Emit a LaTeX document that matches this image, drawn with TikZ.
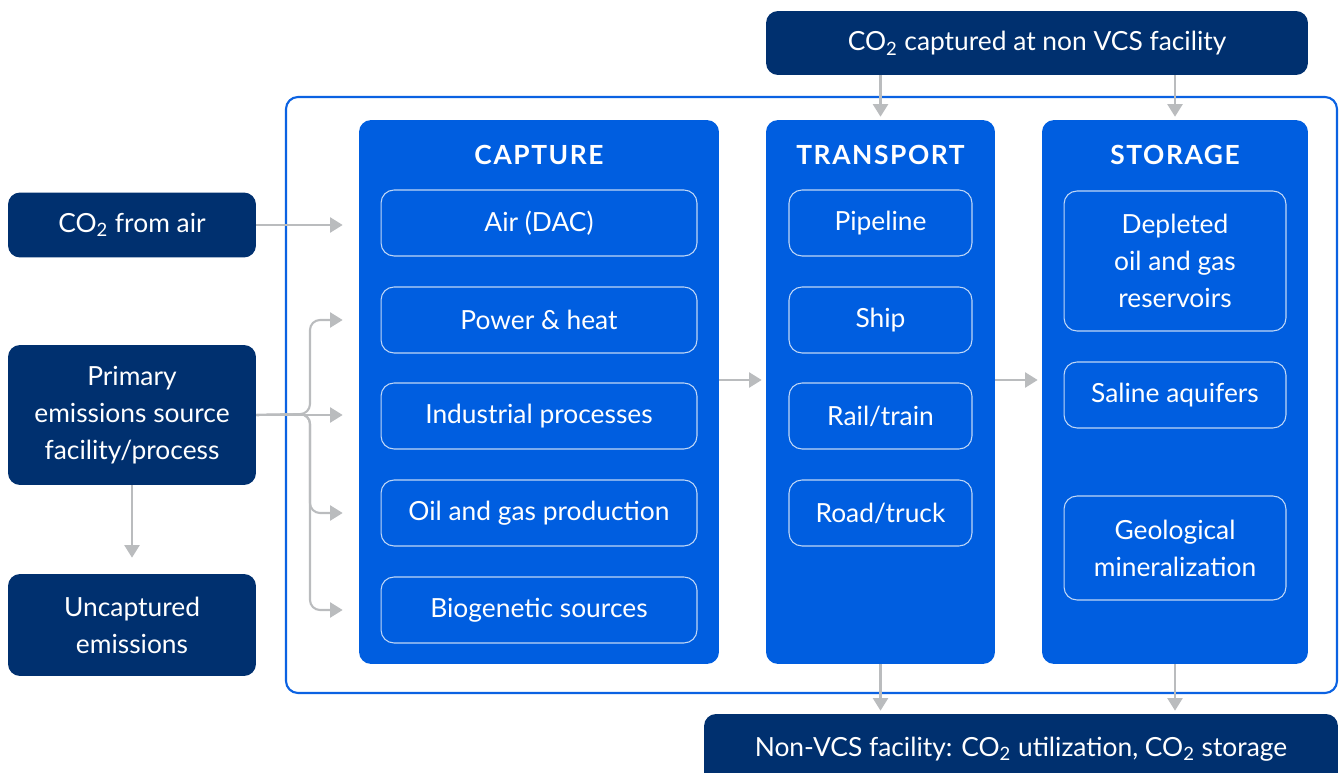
\documentclass[tikz,border=0pt]{standalone}
\usepackage{fontspec}
\setmainfont{Lato}
\usetikzlibrary{arrows.meta, positioning, calc}
\definecolor{NavyBox}{HTML}{00306F}
\definecolor{StageBlue}{HTML}{005EE0}
\definecolor{FrameBlue}{HTML}{0B62E2}
\definecolor{ArrowGray}{HTML}{BABCBE}
\newcommand{\cotwo}{CO\textsubscript{2}}
\tikzset{
  txt/.style={font=\fontsize{15}{21}\selectfont, text=white, align=center, inner sep=0pt},
  srcbox/.style={txt, fill=NavyBox, rounded corners=0.24cm, minimum width=4.96cm},
  stage/.style={fill=StageBlue, rounded corners=0.24cm, minimum height=10.88cm, inner sep=0pt},
  head/.style={font=\fontsize{15}{18}\selectfont\bfseries\addfontfeature{LetterSpace=6}, text=white, inner sep=0pt},
  item/.style={txt, draw=white!75!StageBlue, line width=0.6pt, rounded corners=0.26cm, minimum height=1.32cm},
  flow/.style={draw=ArrowGray, line width=1.2pt, -{Triangle[length=0.25cm, width=0.3cm]}},
}
\begin{document}
\begin{tikzpicture}[x=0.02cm, y=-0.02cm]
  \clip (0,0) rectangle (1340,773);
  % outer frame round the three stages
  \draw[FrameBlue, line width=1.2pt, rounded corners=0.24cm] (286,97) rectangle (1337,693);

  % sources and sinks
  \node[srcbox, minimum width=10.84cm, minimum height=1.28cm] (topsrc) at (1037,43) {\cotwo{} captured at non VCS facility};
  \node[srcbox, minimum height=1.3cm] (air) at (132,225) {\cotwo{} from air};
  \node[srcbox, minimum height=2.8cm] (primary) at (132,415) {Primary\\emissions source\\facility/process};
  \node[srcbox, minimum height=2.04cm] (uncaptured) at (132,625) {Uncaptured\\emissions};
  \node[srcbox, minimum width=12.68cm, minimum height=1.4cm] (nonvcs) at (1021,749) {Non-VCS facility: \cotwo{} utilization, \cotwo{} storage};

  % stages
  \node[stage, minimum width=7.2cm] (capture) at (539,392) {};
  \node[stage, minimum width=4.58cm] (transport) at (880.5,392) {};
  \node[stage, minimum width=5.32cm] (storage) at (1175,392) {};
  \node[head] (capturehead) at (539,155) {CAPTURE};
  \node[head] (transporthead) at (880.5,155) {TRANSPORT};
  \node[head] (storagehead) at (1175,155) {STORAGE};

  % capture options
  \node[item, minimum width=6.32cm] (dac) at (539,223) {Air (DAC)};
  \node[item, minimum width=6.32cm] (power) at (539,320) {Power \& heat};
  \node[item, minimum width=6.32cm] (industrial) at (539,416) {Industrial processes};
  \node[item, minimum width=6.32cm] (oilgas) at (539,513) {Oil and gas production};
  \node[item, minimum width=6.32cm] (biogenic) at (539,610) {Biogenetic sources};

  % transport options
  \node[item, minimum width=3.66cm] (pipeline) at (880.5,223) {Pipeline};
  \node[item, minimum width=3.66cm] (ship) at (880.5,320) {Ship};
  \node[item, minimum width=3.66cm] (rail) at (880.5,416) {Rail/train};
  \node[item, minimum width=3.66cm] (road) at (880.5,513) {Road/truck};

  % storage options
  \node[item, minimum width=4.44cm, minimum height=2.8cm] (depleted) at (1175,261) {Depleted\\oil and gas\\reservoirs};
  \node[item, minimum width=4.44cm] (saline) at (1175,395) {Saline aquifers};
  \node[item, minimum width=4.44cm, minimum height=2.08cm] (geomin) at (1175,548) {Geological\\mineralization};

  % connectors
  \coordinate (split) at (310,414);
  \coordinate (midrow) at (0,380);
  \draw[flow, shorten >=0.32cm] (air.east) -- (capture.west |- air.east);
  \draw[flow, shorten >=0.32cm] (primary.east) -- (capture.west |- primary.east);
  \foreach \t in {power, oilgas, biogenic}
    \draw[flow, shorten >=0.32cm, rounded corners=0.2cm] (primary.east) -- (split) -- (split |- \t) -- (capture.west |- \t);
  \draw[flow, shorten >=0.32cm] (primary.south) -- (uncaptured.north);
  \draw[flow, shorten >=0.08cm] (capture.east |- midrow) -- (transport.west |- midrow);
  \draw[flow, shorten >=0.08cm] (transport.east |- midrow) -- (storage.west |- midrow);
  \foreach \s in {transport, storage} {
    \draw[flow, shorten >=0.06cm] (topsrc.south -| \s) -- (\s.north);
    \draw[flow, shorten >=0.06cm] (\s.south) -- (nonvcs.north -| \s);
  }
\end{tikzpicture}
\end{document}
